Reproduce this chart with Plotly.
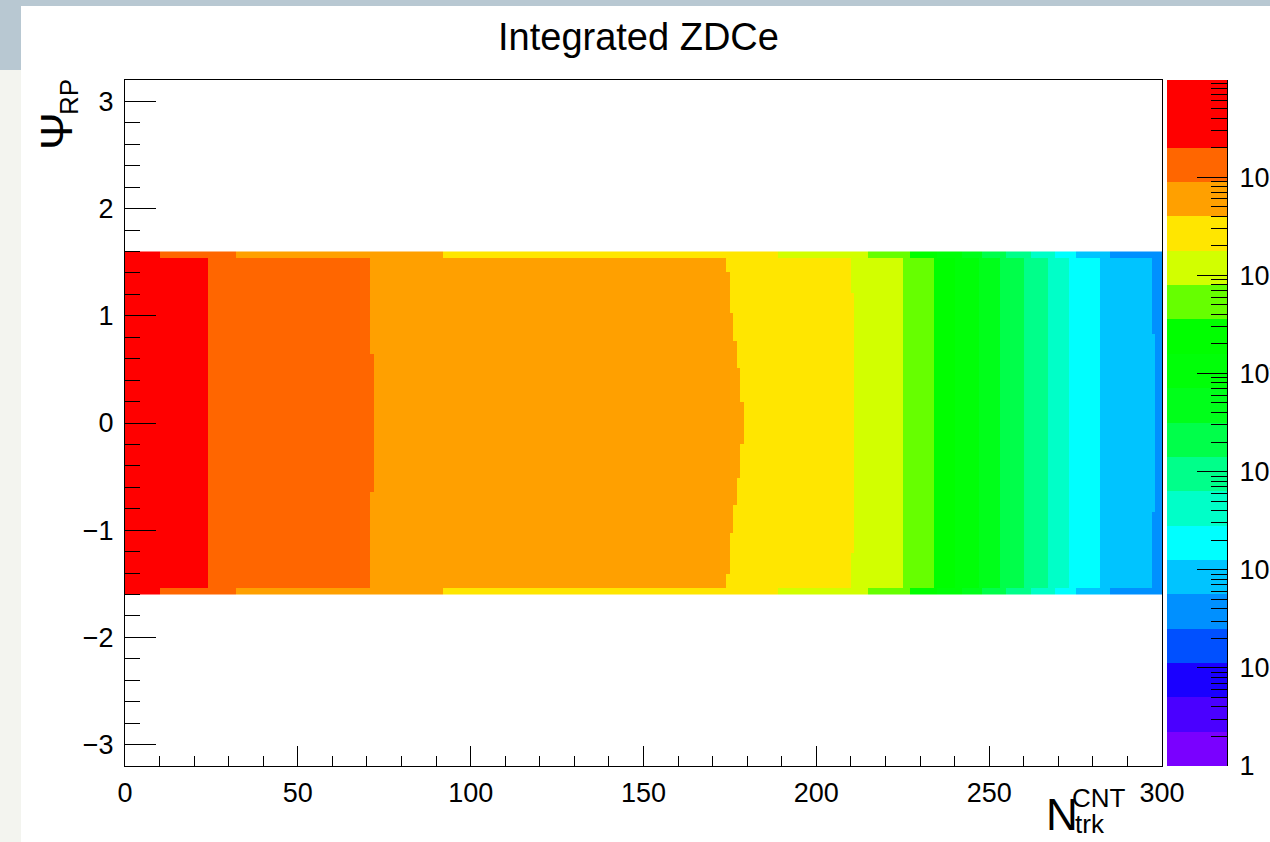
import numpy as np
import plotly.graph_objects as go

# ---------------------------------------------------------------------------
# Histogram binning: N_trk^CNT in unit bins, Psi_RP in 0.064-wide bins
# ---------------------------------------------------------------------------
ntrk_edges = np.arange(0, 301, 1)
psi_edges = np.round(np.linspace(-1.6, 1.6, 51), 4)

# log10(entries) per N_trk^CNT bin, central Psi_RP row
log_counts = [
    6.780, 6.758, 6.736, 6.714, 6.692, 6.670, 6.648, 6.625, 6.603, 6.581,
    6.565, 6.545, 6.526, 6.506, 6.487, 6.467, 6.447, 6.428, 6.408, 6.389,
    6.369, 6.349, 6.330, 6.310, 6.292, 6.280, 6.269, 6.259, 6.250, 6.242,
    6.235, 6.228, 6.220, 6.213, 6.206, 6.199, 6.193, 6.186, 6.179, 6.172,
    6.165, 6.158, 6.152, 6.145, 6.138, 6.131, 6.124, 6.117, 6.111, 6.104,
    6.097, 6.090, 6.083, 6.076, 6.070, 6.063, 6.056, 6.049, 6.042, 6.035,
    6.029, 6.022, 6.015, 6.008, 6.001, 5.994, 5.988, 5.981, 5.974, 5.967,
    5.960, 5.953, 5.947, 5.943, 5.940, 5.936, 5.933, 5.929, 5.925, 5.922,
    5.918, 5.915, 5.911, 5.907, 5.904, 5.900, 5.897, 5.893, 5.889, 5.886,
    5.882, 5.878, 5.875, 5.8710, 5.8670, 5.8631, 5.8591, 5.8552, 5.8513, 5.8474,
    5.8436, 5.8397, 5.8359, 5.8321, 5.8283, 5.8245, 5.8208, 5.8171, 5.8133, 5.8096,
    5.8060, 5.8023, 5.7987, 5.7950, 5.7914, 5.7878, 5.7843, 5.7807, 5.7772, 5.7737,
    5.7702, 5.7667, 5.7632, 5.7598, 5.7564, 5.7530, 5.7496, 5.7462, 5.7429, 5.7395,
    5.7362, 5.7329, 5.7296, 5.7264, 5.7231, 5.7199, 5.7167, 5.7135, 5.7104, 5.7072,
    5.7041, 5.7010, 5.6979, 5.6948, 5.6917, 5.6887, 5.6857, 5.6827, 5.6797, 5.6767,
    5.6738, 5.6708, 5.6679, 5.6650, 5.6622, 5.6593, 5.6565, 5.6536, 5.6508, 5.6481,
    5.6453, 5.6425, 5.6398, 5.6371, 5.6344, 5.6317, 5.6291, 5.6264, 5.6238, 5.6212,
    5.6186, 5.6161, 5.6135, 5.6110, 5.6085, 5.6062, 5.6040, 5.6020, 5.6004, 5.5990,
    5.5960, 5.5920, 5.5870, 5.5810, 5.5740, 5.5660, 5.5570, 5.5470, 5.5365, 5.5240,
    5.5115, 5.4990, 5.4865, 5.4740, 5.4614, 5.4488, 5.4362, 5.4236, 5.4110, 5.3983,
    5.3856, 5.3729, 5.3602, 5.3474, 5.3346, 5.3218, 5.3090, 5.2962, 5.2834, 5.2706,
    5.2578, 5.2430, 5.222, 5.200, 5.178, 5.155, 5.128, 5.101, 5.074, 5.047,
    5.020, 4.993, 4.966, 4.939, 4.912, 4.885, 4.846, 4.806, 4.765, 4.724,
    4.683, 4.642, 4.601, 4.560, 4.518, 4.464, 4.410, 4.356, 4.302, 4.248,
    4.194, 4.140, 4.086, 4.031, 3.977, 3.923, 3.869, 3.815, 3.761, 3.707,
    3.653, 3.599, 3.545, 3.490, 3.440, 3.390, 3.340, 3.290, 3.240, 3.190,
    3.140, 3.090, 3.040, 2.990, 2.940, 2.890, 2.840, 2.790, 2.732, 2.673,
    2.615, 2.557, 2.498, 2.440, 2.401, 2.362, 2.323, 2.284, 2.246, 2.207,
    2.168, 2.129, 2.090, 2.066, 2.042, 2.018, 1.993, 1.969, 1.945, 1.921,
    1.897, 1.872, 1.848, 1.824, 1.800, 1.775, 1.765, 1.755, 1.745, 1.735,
]

# Relative yield of each Psi_RP row (bottom to top); the outermost rows are
# only partly inside |Psi_RP| < pi/2
psi_row_weight = [
    0.5300, 0.9801, 0.9803, 0.9808, 0.9813, 0.9820, 0.9828, 0.9838, 0.9848, 0.9860,
    0.9872, 0.9884, 0.9897, 0.9910, 0.9922, 0.9935, 0.9946, 0.9957, 0.9967, 0.9976,
    0.9984, 0.9990, 0.9995, 0.9998, 1.0000, 1.0000, 0.9998, 0.9995, 0.9990, 0.9984,
    0.9976, 0.9967, 0.9957, 0.9946, 0.9935, 0.9922, 0.9910, 0.9897, 0.9884, 0.9872,
    0.9860, 0.9848, 0.9838, 0.9828, 0.9820, 0.9813, 0.9808, 0.9803, 0.9801, 0.5300,
]

# 20-level rainbow palette (lowest level first) on a log z axis, 1 .. 1e7
level_colors = [
    "#7a00ff", "#4a00ff", "#1a00ff", "#0050ff", "#0090ff",
    "#00c4ff", "#00ffff", "#00ffc8", "#00ff8a", "#00ff4a",
    "#00ff1a", "#00ff08", "#00ff00", "#66ff00", "#d2ff00",
    "#ffe600", "#ffa000", "#ff6600", "#ff0000", "#ff0000",
]
z_log_min, z_log_max = 0.0, 7.0
palette_tick_exponents = [0, 1, 2, 3, 4, 5, 6]
palette_tick_text = ["1", "10", "10<sup>2</sup>", "10<sup>3</sup>",
                     "10<sup>4</sup>", "10<sup>5</sup>", "10<sup>6</sup>"]

# ---------------------------------------------------------------------------
n_lev = len(level_colors)
colorscale = []
for k, c in enumerate(level_colors):
    colorscale.append([k / n_lev, c])
    colorscale.append([(k + 1) / n_lev, c])

z = (np.array(log_counts)[None, :] + np.log10(np.array(psi_row_weight))[:, None])

level_edges = np.linspace(z_log_min, z_log_max, n_lev + 1)
level_mid = 0.5 * (level_edges[:-1] + level_edges[1:])

minor_vals = [e + np.log10(m) for e in range(7) for m in range(2, 10)
              if e + np.log10(m) < 6.99]

# page geometry (pixels); the canvas is laid out 25 px wider than the
# visible 1270 px so the right-hand palette labels run off the edge
W, H = 1295, 842
ML, MT, MB = 125, 80, 76
MR = W - 1227
PW, PH = W - ML - MR, H - MT - MB


def px(x):
    return (x - ML) / PW


def py(y):
    return (H - MB - y) / PH


FONT = "Liberation Sans, Arial, Helvetica, sans-serif"

fig = go.Figure()
fig.add_trace(go.Heatmap(
    x=ntrk_edges, y=psi_edges, z=z,
    colorscale=colorscale, zmin=z_log_min, zmax=z_log_max,
    zsmooth=False, showscale=False, xaxis="x", yaxis="y",
    hoverinfo="skip",
))
fig.add_trace(go.Heatmap(
    x=[0, 1], y=level_edges, z=[[v] for v in level_mid],
    colorscale=colorscale, zmin=z_log_min, zmax=z_log_max,
    zsmooth=False, showscale=False, xaxis="x2", yaxis="y2",
    hoverinfo="skip",
))

axis_common = dict(
    showgrid=False, zeroline=False, showline=True, linecolor="black",
    linewidth=1, ticks="inside", tickcolor="black", tickwidth=1,
    tickfont=dict(family=FONT, size=27, color="black"),
)

fig.update_layout(
    width=W, height=H, autosize=False,
    margin=dict(l=ML, r=MR, t=MT, b=MB, pad=0),
    paper_bgcolor="white", plot_bgcolor="white",
    showlegend=False,
    xaxis=dict(
        domain=[0, px(1162)], range=[0, 300], anchor="y",
        tickmode="array", tickvals=list(range(0, 301, 50)),
        ticklen=20, mirror=True, ticklabelstandoff=3,
        minor=dict(dtick=10, tick0=0, ticks="inside", ticklen=10,
                   tickcolor="black", tickwidth=1),
        **axis_common,
    ),
    yaxis=dict(
        domain=[0, 1], range=[-3.2, 3.2], anchor="x",
        tickmode="array", tickvals=[-3, -2, -1, 0, 1, 2, 3],
        ticklen=31, mirror=True, ticklabelstandoff=5,
        minor=dict(dtick=0.2, tick0=0, ticks="inside", ticklen=15,
                   tickcolor="black", tickwidth=1),
        **axis_common,
    ),
    xaxis2=dict(domain=[px(1167), 1], range=[0, 1], anchor="y2",
                visible=False, fixedrange=True),
    yaxis2=dict(
        domain=[0, 1], range=[0, 6.99], anchor="x2", side="right",
        tickmode="array", tickvals=palette_tick_exponents,
        ticktext=palette_tick_text, ticklen=30, ticklabelstandoff=6,
        minor=dict(tickmode="array", tickvals=minor_vals, ticks="inside",
                   ticklen=16, tickcolor="black", tickwidth=1),
        **axis_common,
    ),
)

# window frame around the canvas
frame_blue = "#b8c8d2"
frame_light = "#f3f4ef"
fig.add_shape(type="rect", xref="paper", yref="paper", layer="below",
              x0=px(0), x1=px(W), y0=py(6), y1=py(0),
              line_width=0, fillcolor=frame_blue)
fig.add_shape(type="rect", xref="paper", yref="paper", layer="below",
              x0=px(0), x1=px(21), y0=py(70), y1=py(0),
              line_width=0, fillcolor=frame_blue)
fig.add_shape(type="rect", xref="paper", yref="paper", layer="below",
              x0=px(0), x1=px(21), y0=py(H), y1=py(70),
              line_width=0, fillcolor=frame_light)


def label(text, x, y, size, xanchor="center", yanchor="middle", angle=0):
    fig.add_annotation(
        text=text, x=px(x), y=py(y), xref="paper", yref="paper",
        xanchor=xanchor, yanchor=yanchor, textangle=angle, showarrow=False,
        font=dict(family=FONT, size=size, color="black"),
    )


label("Integrated ZDCe", 638, 37, 38)
label("\u03a8", 57, 131, 45, angle=-90)
label("RP", 69, 97, 26, angle=-90)
label("N", 1062, 814, 44)
label("CNT", 1070, 798, 26, xanchor="left")
label("trk", 1073, 824, 26, xanchor="left")

fig.write_html(
    "out.html",
    config={"responsive": False},
    default_width=f"{W}px",
    default_height=f"{H}px",
    post_script="document.body.style.margin='0';"
                "document.body.style.overflow='hidden';",
)
